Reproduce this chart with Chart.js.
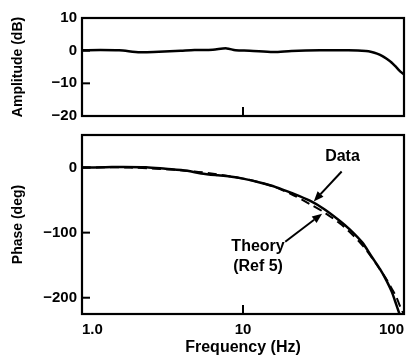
<!DOCTYPE html>
<html><head><meta charset="utf-8">
<script src="https://cdn.jsdelivr.net/npm/chart.js@4/dist/chart.umd.min.js"></script>
<style>
html,body{margin:0;padding:0;background:#fff;}
#wrap{position:relative;width:411px;height:356px;overflow:hidden;}
canvas{position:absolute;left:0;}
</style></head><body>
<div id="wrap">
<canvas id="amp" width="411" height="125" style="top:0px"></canvas>
<canvas id="ph" width="411" height="231" style="top:125px"></canvas>
</div>
<script>
// ---- data ----
const ampFreq = [1, 1.3, 1.7, 2.3, 3, 4.1, 5, 6.5, 7.9, 9, 11, 15.4, 20, 30, 45, 58, 63, 68, 73, 78, 84, 90, 95, 100];
const ampDb   = [0.1, 0.2, 0.1, -0.5, -0.3, 0, 0.2, 0.3, 0.7, 0.1, 0, -0.4, -0.1, 0.1, 0.1, -0.1, -0.4, -0.9, -1.6, -2.5, -3.7, -5.2, -6.4, -7.3];

const phaseFreq = [1, 1.4, 1.8, 2.5, 3.3, 4.5, 5.5, 7, 8.5, 10, 12.7, 16, 20, 26, 32, 40, 46, 55, 63, 71, 78, 84, 88, 92, 94];
const phaseData = [0, 0.5, 1, 0.5, -2, -5, -9, -12, -14, -17, -23, -30, -39, -51, -64, -82, -95, -115, -137, -156, -174, -191, -205, -219, -226];

const theoryFreq  = [1, 2, 5, 10, 15, 20, 26, 32, 40, 46, 55, 63, 71, 78, 84, 90, 97, 100];
const theoryPhase = [0, 0, -6, -17, -28, -41, -56, -69, -86, -99, -119, -138, -157, -172, -186, -200, -220, -225];

const freqTicks  = [1, 10, 100];
const freqLabels = ['1.0', '10', '100'];
const ampTicks   = [-20, -10, 0, 10];
const phaseTicks = [-200, -100, 0];

const xTitle = 'Frequency (Hz)';
const ampTitle = 'Amplitude (dB)';
const phaseTitle = 'Phase (deg)';

// annotations (data units)
const notes = [
  {lines: ['Data'], f: 41.5, p: 17, tail: [41, -6], head: [27.5, -52]},
  {lines: ['Theory', '(Ref 5)'], f: 12.4, p: -122, tail: [18.3, -114], head: [31, -71]}
];

const fmtNum = v => v < 0 ? '\u2212' + Math.abs(v) : String(v);
const pts = (xs, ys) => xs.map((x, i) => ({x, y: ys[i]}));

const framePlugin = {
  id: 'frame',
  afterDatasetsDraw(chart) {
    const {ctx, chartArea: a, scales} = chart;
    ctx.save();
    ctx.strokeStyle = '#000';
    ctx.lineWidth = 2.2;
    ctx.strokeRect(a.left, a.top, a.right - a.left, a.bottom - a.top);
    ctx.lineWidth = 2;
    scales.y.ticks.forEach(t => {
      const y = scales.y.getPixelForValue(t.value);
      ctx.beginPath(); ctx.moveTo(a.left, y); ctx.lineTo(a.left + 8, y); ctx.stroke();
    });
    freqTicks.slice(1, -1).forEach(v => {
      const x = scales.x.getPixelForValue(v);
      ctx.beginPath(); ctx.moveTo(x, a.bottom); ctx.lineTo(x, a.bottom - 9); ctx.stroke();
    });
    ctx.restore();
  }
};

const notePlugin = {
  id: 'notes',
  afterDatasetsDraw(chart) {
    const {ctx, scales: {x, y}} = chart;
    ctx.save();
    ctx.fillStyle = '#000'; ctx.strokeStyle = '#000';
    ctx.font = 'bold 16px "Liberation Sans", Arial, sans-serif';
    ctx.textAlign = 'center'; ctx.textBaseline = 'middle';
    notes.forEach(n => {
      const cx = x.getPixelForValue(n.f), cy = y.getPixelForValue(n.p);
      n.lines.forEach((s, i) => ctx.fillText(s, cx, cy + i * 20));
      const x1 = x.getPixelForValue(n.tail[0]), y1 = y.getPixelForValue(n.tail[1]);
      const x2 = x.getPixelForValue(n.head[0]), y2 = y.getPixelForValue(n.head[1]);
      const ang = Math.atan2(y2 - y1, x2 - x1);
      const L = 10, W = 4;
      const bx = x2 - L * Math.cos(ang), by = y2 - L * Math.sin(ang);
      ctx.lineWidth = 2;
      ctx.beginPath(); ctx.moveTo(x1, y1); ctx.lineTo(bx, by); ctx.stroke();
      ctx.beginPath();
      ctx.moveTo(x2, y2);
      ctx.lineTo(bx + W * Math.sin(ang), by - W * Math.cos(ang));
      ctx.lineTo(bx - W * Math.sin(ang), by + W * Math.cos(ang));
      ctx.closePath(); ctx.fill();
    });
    ctx.restore();
  }
};

Chart.defaults.font.family = '"Liberation Sans", Arial, sans-serif';
Chart.defaults.color = '#000';

const tickFont = {size: 15, weight: 'bold'};
const titleFont = {size: 14, weight: 'bold'};

const xScale = (show) => ({
  type: 'logarithmic', min: 1, max: 100, display: show,
  grid: {display: false, drawTicks: false},
  border: {display: false},
  afterBuildTicks: s => { s.ticks = freqTicks.map(v => ({value: v})); },
  afterFit: s => { if (show) s.height = 42; s.paddingLeft = 0; s.paddingRight = 0; },
  ticks: {
    font: tickFont, padding: 7, align: 'inner', autoSkip: false, maxRotation: 0,
    callback: (v) => { const i = freqTicks.indexOf(v); return i >= 0 ? freqLabels[i] : ''; }
  },
  title: {display: show, text: xTitle, font: {size: 16, weight: 'bold', lineHeight: 1}, padding: {top: 0, bottom: 0}}
});

const yScale = (min, max, ticks, title) => ({
  min, max,
  grid: {display: false, drawTicks: false},
  border: {display: false},
  afterBuildTicks: s => { s.ticks = ticks.map(v => ({value: v})); },
  afterFit: s => { s.width = 82; s.paddingTop = 0; s.paddingBottom = 0; },
  ticks: {font: tickFont, padding: 5, callback: v => fmtNum(v)},
  title: {display: true, text: title, font: titleFont, padding: {top: 10, bottom: 0}}
});

const common = {
  responsive: false, animation: false, devicePixelRatio: 1,
  plugins: {legend: {display: false}, tooltip: {enabled: false}},
  elements: {point: {radius: 0}}
};

new Chart(document.getElementById('amp'), {
  type: 'line',
  data: {datasets: [{data: pts(ampFreq, ampDb), borderColor: '#000', borderWidth: 2.5, tension: 0.3, fill: false}]},
  options: Object.assign({}, common, {
    layout: {padding: {left: 0, right: 7, top: 18, bottom: 9}},
    scales: {x: xScale(false), y: yScale(-20, 10, ampTicks, ampTitle)}
  }),
  plugins: [framePlugin]
});

new Chart(document.getElementById('ph'), {
  type: 'line',
  data: {datasets: [
    {data: pts(theoryFreq, theoryPhase), borderColor: '#000', borderWidth: 2, borderDash: [9, 5], tension: 0.3, fill: false},
    {data: pts(phaseFreq, phaseData), borderColor: '#000', borderWidth: 2.5, tension: 0.3, fill: false}
  ]},
  options: Object.assign({}, common, {
    layout: {padding: {left: 0, right: 7, top: 10, bottom: 0}},
    scales: {x: xScale(true), y: yScale(-225, 50, phaseTicks, phaseTitle)}
  }),
  plugins: [framePlugin, notePlugin]
});
</script>
</body></html>
